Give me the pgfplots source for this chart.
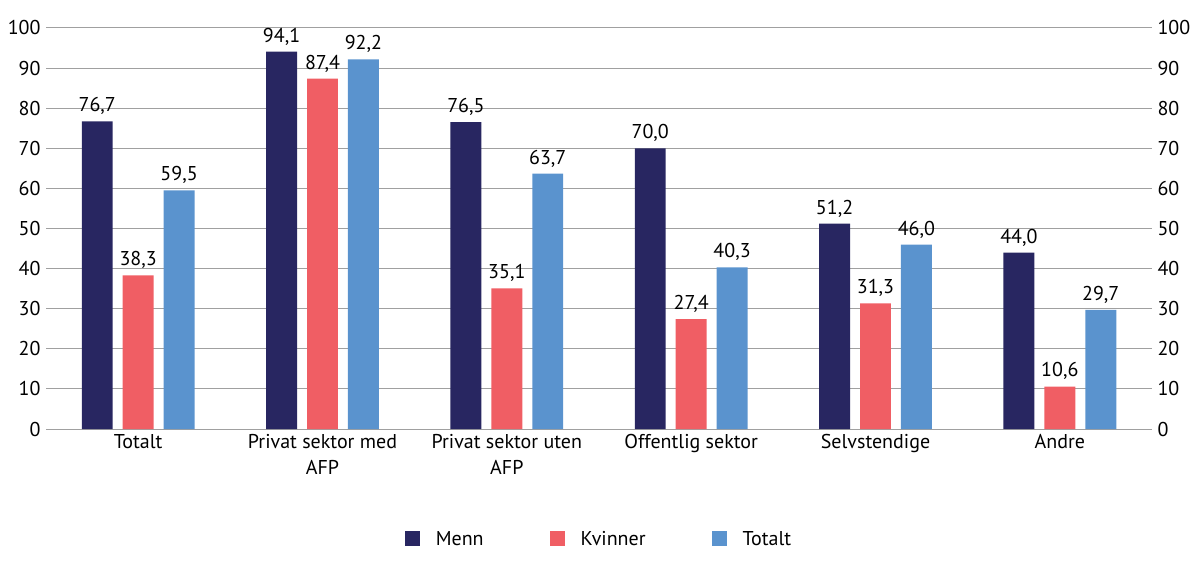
\documentclass[border=0pt]{standalone}
\usepackage{pgfplots}
\pgfplotsset{compat=1.18}
\usepackage{fontspec}
\setmainfont{PT Sans}
\usetikzlibrary{calc}
\definecolor{menn}{RGB}{40,38,97}
\definecolor{kvinner}{RGB}{240,94,100}
\definecolor{totalt}{RGB}{90,147,206}
\definecolor{gridgray}{RGB}{160,160,160}

\pgfplotstableread{
x menn kvinner totalt
0 76.7 38.3 59.5
1 94.1 87.4 92.2
2 76.5 35.1 63.7
3 70.0 27.4 40.3
4 51.2 31.3 46.0
5 44.0 10.6 29.7
}\data

\newcommand{\lab}{\fontsize{20}{23}\selectfont}

\begin{document}
\begin{tikzpicture}
\begin{axis}[
    name=ax,
    scale only axis,
    width=1106pt, height=401pt,
    ybar, bar width=0.168,
    xmin=-0.5, xmax=5.5,
    ymin=0, ymax=100,
    ytick={0,10,...,100},
    xtick=data,
    xticklabels={Totalt, {Privat sektor med\\AFP}, {Privat sektor uten\\AFP}, Offentlig sektor, Selvstendige, Andre},
    xticklabel style={align=center, font=\fontsize{20}{26}\selectfont, yshift=-2pt},
    yticklabel style={font=\lab, xshift=-2pt},
    /pgf/number format/assume math mode=true,
    major tick length=0pt,
    axis line style={draw=none},
    ymajorgrids, grid style={gridgray, line width=1pt},
    nodes near coords,
    nodes near coords style={font=\lab, yshift=3pt,
        /pgf/number format/.cd, fixed, fixed zerofill, precision=1, use comma},
    legend style={at={(0.5,-0.245)}, anchor=north, draw=none, legend columns=3,
        font=\lab,
        /tikz/every odd column/.append style={column sep=14pt},
        /tikz/every even column/.append style={column sep=64pt}},
    legend image code/.code={\fill[#1] (0pt,-7pt) rectangle (15pt,8pt);},
]
\addplot[fill=menn, draw=none, bar shift=-0.222] table[x=x, y=menn] {\data};
\addplot[fill=kvinner, draw=none, bar shift=0] table[x=x, y=kvinner] {\data};
\addplot[fill=totalt, draw=none, bar shift=0.222] table[x=x, y=totalt] {\data};
\legend{Menn, Kvinner, Totalt}
\end{axis}
\begin{axis}[
    scale only axis,
    width=1106pt, height=401pt,
    xmin=-0.5, xmax=5.5,
    ymin=0, ymax=100,
    ytick={0,10,...,100},
    xtick=\empty,
    yticklabel pos=right,
    yticklabel style={font=\lab, xshift=2pt},
    /pgf/number format/assume math mode=true,
    major tick length=0pt,
    axis line style={draw=none},
]
\end{axis}
\path ($(ax.south west)+(-46pt,-137pt)$) rectangle ($(ax.north east)+(48pt,28pt)$);
\end{tikzpicture}
\end{document}
